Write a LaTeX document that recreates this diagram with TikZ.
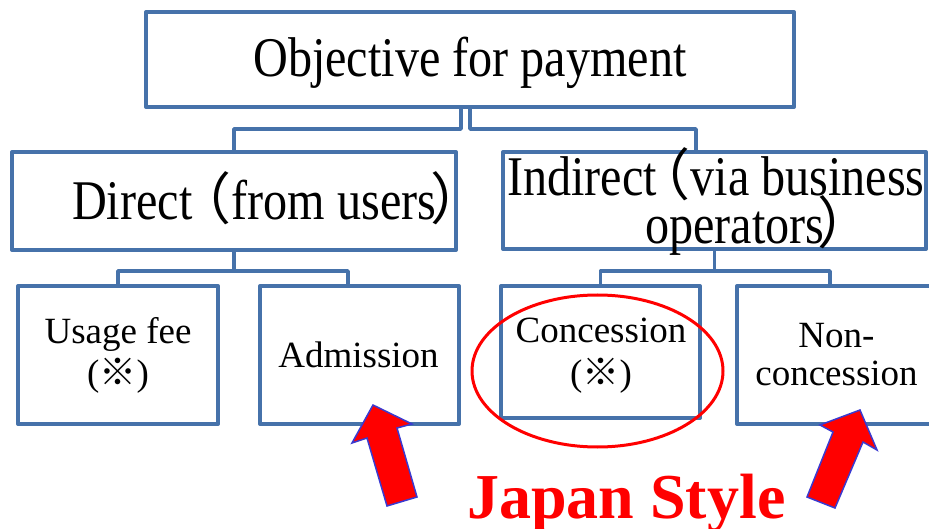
\documentclass[tikz,border=0pt]{standalone}
\usepackage{fontspec}
\usetikzlibrary{shapes.geometric}
\setmainfont{Liberation Serif}
\newfontfamily\bigserif{Liberation Serif}[FakeStretch=0.86]
\newfontfamily\cjk{Noto Sans CJK JP}
\definecolor{boxblue}{HTML}{4672AA}
\definecolor{arrowblue}{HTML}{3A3AD0}
\definecolor{jred}{HTML}{FF0000}
\begin{document}
\begin{tikzpicture}[x=1pt,y=-1pt,
  box/.style={draw=boxblue, line width=4pt, line join=round, inner sep=0pt},
  conn/.style={draw=boxblue, line width=3.5pt, line join=round},
  bigtxt/.style={inner sep=0pt, font=\bigserif\fontsize{56}{56}\selectfont},
  smalltxt/.style={inner sep=0pt, anchor=base, font=\fontsize{37}{37}\selectfont},
  bigarrow/.style={fill=jred, draw=arrowblue, line width=1.5pt, line join=miter}]
\useasboundingbox (0,0) rectangle (929,529);
\fill[white] (0,0) rectangle (929,529);

% boxes
\node[box, minimum width=648pt, minimum height=95pt] (top) at (470,59.5) {};
\node[box, minimum width=444pt, minimum height=98pt] (direct) at (234,201) {};
\node[box, minimum width=423pt, minimum height=97pt] (indirect) at (714.5,200.5) {};
\node[box, minimum width=200pt, minimum height=138pt] (usage) at (118,355) {};
\node[box, minimum width=199pt, minimum height=138pt] (admission) at (359.5,355) {};
\node[box, minimum width=199pt, minimum height=132pt] (concession) at (600.5,352) {};
\node[box, minimum width=198pt, minimum height=138pt] (nonc) at (836,355) {};

% texts
\node[bigtxt, anchor=base] (ttop) at (470,77) {Objective for payment};
\node[bigtxt, anchor=base west] (tdirect) at (72,220) {Direct{\cjk\kern-0.3em（}from users{\cjk\kern-0.1em）}};
\node[bigtxt, anchor=base west] (tind1) at (507,196) {Indirect{\cjk\kern-0.4em（}via business};
\node[bigtxt, anchor=base west] (tind2) at (645,244) {operators{\cjk\kern-0.12em）}};
\node[smalltxt] (tusage1) at (118,343) {Usage fee};
\node[smalltxt] (tusage2) at (118,385) {({\cjk ※})};
\node[smalltxt] (tadm) at (358.5,367) {Admission};
\node[smalltxt] (tcon1) at (601,342) {Concession};
\node[smalltxt] (tcon2) at (601,385) {({\cjk ※})};
\node[smalltxt] (tnon1) at (836.5,348) {Non-};
\node[smalltxt] (tnon2) at (836.5,385) {concession};

% connectors
\coordinate (barA) at (0,129);
\coordinate (barB) at (0,271);
\coordinate (sL) at ([xshift=-9pt]top.south);
\coordinate (sR) at ([xshift=0pt]top.south);
\coordinate (indTop) at ([xshift=-18.5pt]indirect.north);
\coordinate (admTop) at ([xshift=-11.5pt]admission.north);
\coordinate (nonTop) at ([xshift=-6pt]nonc.north);
\draw[conn] (sL) -- (sL |- barA) -- (direct.north |- barA) -- (direct.north);
\draw[conn] (sR) -- (sR |- barA) -- (indTop |- barA) -- (indTop);
\draw[conn] (direct.south) -- (direct.south |- barB) -- (usage.north |- barB) -- (usage.north);
\draw[conn] (direct.south) -- (direct.south |- barB) -- (admTop |- barB) -- (admTop);
\draw[conn] (indirect.south) -- (indirect.south |- barB) -- (concession.north |- barB) -- (concession.north);
\draw[conn] (indirect.south) -- (indirect.south |- barB) -- (nonTop |- barB) -- (nonTop);

% highlight
\node[draw=jred, line width=3pt, ellipse, minimum width=251pt, minimum height=152pt, inner sep=0pt] (ring) at (597.5,371) {};
\node[inner sep=0pt, anchor=base west, text=jred, font=\bfseries\fontsize{64}{64}\selectfont] (japan) at (467,518) {Japan Style};

% arrows
\draw[bigarrow] (373,405) -- (412,424) -- (397,428) -- (417,497) -- (387,506) -- (367,438) -- (352,443) -- cycle;
\draw[bigarrow] (860,410) -- (877,450) -- (863,442) -- (835,508) -- (807,497) -- (833,432) -- (820,425) -- cycle;
\end{tikzpicture}
\end{document}
